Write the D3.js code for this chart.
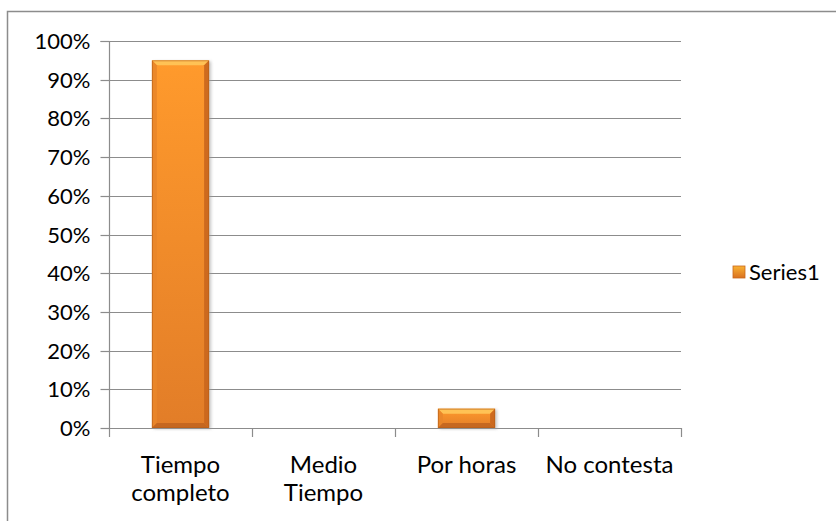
<!DOCTYPE html>
<html>
<head>
<meta charset="utf-8">
<script src="https://cdn.jsdelivr.net/npm/d3@7/dist/d3.min.js"></script>
<style>
  html, body { margin: 0; padding: 0; background: #fff; }
  svg { display: block; }
  text { font-family: Lato, "Open Sans", sans-serif; fill: #000; }
</style>
</head>
<body>
<svg id="chart" width="836" height="521"></svg>
<script>
// Chart data
const categories = [["Tiempo", "completo"], ["Medio", "Tiempo"], ["Por horas"], ["No contesta"]];
const values = [0.95, 0, 0.05, 0];
const seriesName = "Series1";
const yTicks = [0, 0.1, 0.2, 0.3, 0.4, 0.5, 0.6, 0.7, 0.8, 0.9, 1.0];

const svg = d3.select("#chart");
const W = 836, H = 521;
const plot = { left: 109, right: 681, top: 41, bottom: 428 };
const tickFont = 22, catFont = 24, legFont = 22;

// Gradients for the bevelled bars
const defs = svg.append("defs");
const g1 = defs.append("linearGradient").attr("id", "barFill").attr("x1", 0).attr("y1", 0).attr("x2", 0).attr("y2", 1);
g1.append("stop").attr("offset", "0%").attr("stop-color", "#ff9a2c");
g1.append("stop").attr("offset", "100%").attr("stop-color", "#e27d28");
const g2 = defs.append("linearGradient").attr("id", "legFill").attr("x1", 0).attr("y1", 0).attr("x2", 0).attr("y2", 1);
g2.append("stop").attr("offset", "0%").attr("stop-color", "#f9b233");
g2.append("stop").attr("offset", "100%").attr("stop-color", "#d97020");
const blur = defs.append("filter").attr("id", "shadow").attr("x", "-20%").attr("y", "-20%").attr("width", "140%").attr("height", "140%");
blur.append("feGaussianBlur").attr("stdDeviation", 1.6);

// Outer chart frame
svg.append("rect").attr("x", 7.5).attr("y", 11.5).attr("width", W + 10).attr("height", H + 10)
  .attr("fill", "#fff").attr("stroke", "#8c8c8c").attr("stroke-width", 1.5);

const x = d3.scaleBand().domain(d3.range(categories.length)).range([plot.left, plot.right]).paddingInner(0.6).paddingOuter(0.3);
const xEdge = d3.scaleLinear().domain([0, categories.length]).range([plot.left, plot.right]);
const y = d3.scaleLinear().domain([0, 1]).range([plot.bottom, plot.top]);

// Horizontal gridlines
svg.append("g").selectAll("line").data(yTicks).join("line")
  .attr("x1", plot.left).attr("x2", plot.right)
  .attr("y1", d => Math.round(y(d)) + 0.5).attr("y2", d => Math.round(y(d)) + 0.5)
  .attr("stroke", "#8c8c8c").attr("stroke-width", 1.2);

// Y axis
const yAxis = d3.axisLeft(y).tickValues(yTicks).tickFormat(d3.format(".0%")).tickSize(9).tickPadding(10);
const yg = svg.append("g").attr("transform", `translate(${plot.left + 0.5},0)`).call(yAxis);
yg.select(".domain").attr("stroke", "#8c8c8c").attr("stroke-width", 1.2).attr("d", `M-9,${plot.top + 0.5}H0V${plot.bottom + 0.5}`);
yg.selectAll(".tick line").attr("stroke", "#8c8c8c").attr("stroke-width", 1.2);
yg.selectAll(".tick").attr("transform", d => `translate(0,${Math.round(y(d)) + 0.5})`);
yg.selectAll(".tick text").attr("font-size", tickFont).attr("font-family", "Lato, sans-serif").attr("fill", "#000");

// X axis baseline and category dividers
const xg = svg.append("g");
xg.append("line").attr("x1", plot.left).attr("x2", plot.right)
  .attr("y1", plot.bottom + 0.5).attr("y2", plot.bottom + 0.5)
  .attr("stroke", "#8c8c8c").attr("stroke-width", 1.2);
xg.selectAll("line.div").data(d3.range(categories.length + 1)).join("line").attr("class", "div")
  .attr("x1", d => Math.round(xEdge(d)) + 0.5).attr("x2", d => Math.round(xEdge(d)) + 0.5)
  .attr("y1", plot.bottom).attr("y2", plot.bottom + 9)
  .attr("stroke", "#8c8c8c").attr("stroke-width", 1.2);

// Category labels
const lab = svg.append("g").selectAll("text").data(categories).join("text")
  .attr("x", (d, i) => xEdge(i + 0.5)).attr("y", 473)
  .attr("text-anchor", "middle").attr("font-size", catFont);
lab.selectAll("tspan").data(d => d).join("tspan")
  .attr("x", function () { return d3.select(this.parentNode).attr("x"); })
  .attr("dy", (d, i) => i === 0 ? 0 : 28).text(d => d);

// Bars with bevelled edges
const bars = svg.append("g").selectAll("g").data(values.map((v, i) => ({ v, i })).filter(d => d.v > 0)).join("g");
bars.append("rect")
  .attr("x", d => x(d.i) + 2).attr("y", d => y(d.v) + 1)
  .attr("width", x.bandwidth()).attr("height", d => y(0) - y(d.v))
  .attr("fill", "#9a9a9a").attr("opacity", 0.55).attr("filter", "url(#shadow)");
bars.append("rect")
  .attr("x", d => x(d.i)).attr("y", d => y(d.v))
  .attr("width", x.bandwidth()).attr("height", d => y(0) - y(d.v))
  .attr("fill", "url(#barFill)");

const bv = 5;
function bevel(d, side) {
  const x0 = x(d.i), x1 = x0 + x.bandwidth(), y0 = y(d.v), y1 = y(0);
  const b = Math.min(bv, (y1 - y0) / 2);
  if (side === "top") return `M${x0},${y0}L${x1},${y0}L${x1 - b},${y0 + b}L${x0 + b},${y0 + b}Z`;
  if (side === "bottom") return `M${x0},${y1}L${x1},${y1}L${x1 - b},${y1 - b}L${x0 + b},${y1 - b}Z`;
  if (side === "left") return `M${x0},${y0}L${x0 + b},${y0 + b}L${x0 + b},${y1 - b}L${x0},${y1}Z`;
  return `M${x1},${y0}L${x1 - b},${y0 + b}L${x1 - b},${y1 - b}L${x1},${y1}Z`;
}
const bevelColors = { top: "#ffc75a", left: "#e9862a", right: "#c9661d", bottom: "#c2651f" };
["top", "left", "right", "bottom"].forEach(side => {
  bars.append("path").attr("d", d => bevel(d, side)).attr("fill", bevelColors[side]).attr("opacity", 0.9);
});
bars.append("rect")
  .attr("x", d => x(d.i) + 0.5).attr("y", d => y(d.v) + 0.5)
  .attr("width", x.bandwidth() - 1).attr("height", d => y(0) - y(d.v) - 1)
  .attr("fill", "none").attr("stroke", "#b55c18").attr("stroke-width", 0.8).attr("opacity", 0.7);

// Legend
const leg = svg.append("g").attr("transform", "translate(733,266)");
leg.append("rect").attr("width", 12).attr("height", 12).attr("fill", "url(#legFill)")
  .attr("stroke", "#c9661d").attr("stroke-width", 0.8);
leg.append("text").attr("x", 16).attr("y", 6).attr("dy", "0.35em").attr("font-size", legFont).text(seriesName);
</script>
</body>
</html>
